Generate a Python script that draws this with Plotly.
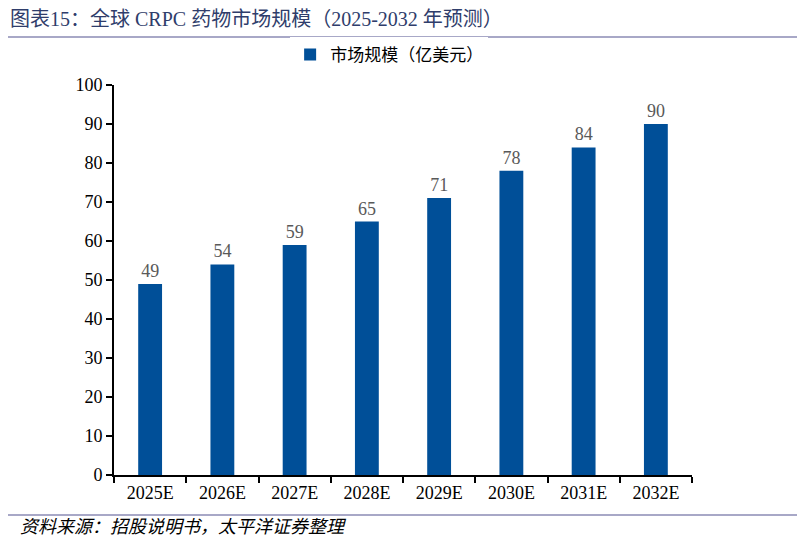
import plotly.graph_objects as go

years = ["2025E", "2026E", "2027E", "2028E", "2029E", "2030E", "2031E", "2032E"]
market_size = [49, 54, 59, 65, 71, 78, 84, 90]
series_name = "市场规模（亿美元）"

FONT = "Times New Roman, Liberation Serif, Noto Sans CJK SC, serif"
BAR = "#004f98"

fig = go.Figure()
fig.add_trace(go.Bar(
    x=years, y=market_size, name=series_name,
    marker=dict(color=BAR, line=dict(width=0)),
    text=[str(v) for v in market_size], textposition="outside",
    textfont=dict(color="#595959", size=18, family=FONT),
    cliponaxis=False,
))

# page body has an 8px margin, so the figure is sized 8px smaller than the window
fig.update_layout(
    width=797, height=534,
    paper_bgcolor="white", plot_bgcolor="white",
    font=dict(family=FONT, color="black", size=18),
    margin=dict(l=106, r=113, t=77, b=67),
    bargap=0.67,
    showlegend=True,
    legend=dict(orientation="h", x=0.476, xanchor="center",
                y=1.077, yanchor="middle",
                font=dict(size=17, family=FONT)),
    xaxis=dict(showline=True, linecolor="black", linewidth=2,
               ticks="outside", ticklen=6, tickcolor="black", tickwidth=1.5,
               tickson="boundaries", tickfont=dict(size=18), showgrid=False),
    yaxis=dict(range=[0, 100], dtick=10, showline=True, linecolor="black", linewidth=2,
               ticks="outside", ticklen=6, tickcolor="black", tickwidth=1.5,
               showgrid=False, zeroline=False, tickfont=dict(size=18)),
    shapes=[
        dict(type="line", xref="paper", yref="paper", x0=-0.2, x1=1.2, y0=1.123, y1=1.123,
             line=dict(color="#8b8bb5", width=1.5)),
        dict(type="line", xref="paper", yref="paper", x0=-0.2, x1=1.2, y0=-0.1026, y1=-0.1026,
             line=dict(color="#8b8bb5", width=1.5)),
    ],
    annotations=[
        dict(text="图表15：全球 CRPC 药物市场规模（2025-2032 年预测）", showarrow=False,
             xref="paper", yref="paper", x=-0.183, xanchor="left", y=1.168, yanchor="middle",
             font=dict(size=20, color="#2f3d6b", family=FONT)),
        dict(text="<i>资料来源：招股说明书，太平洋证券整理</i>", showarrow=False,
             xref="paper", yref="paper", x=-0.166, xanchor="left", y=-0.133, yanchor="middle",
             font=dict(size=18, color="black", family=FONT)),
    ],
)

fig.write_html("out.html")
